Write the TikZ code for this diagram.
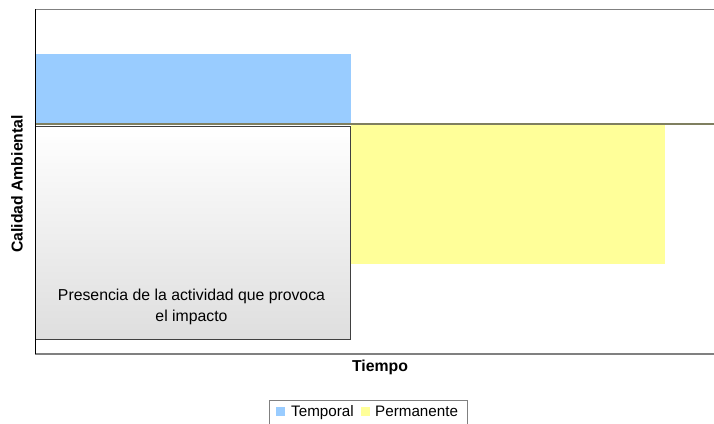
\documentclass[tikz,border=0pt]{standalone}
\usepackage{fontspec}
\setmainfont{Liberation Sans}
\definecolor{tempblue}{HTML}{99CCFF}
\definecolor{permyellow}{HTML}{FFFF99}
\definecolor{framegray}{HTML}{808080}
\definecolor{midline}{HTML}{7F7F60}
\definecolor{boxedge}{HTML}{404040}
\definecolor{boxbottom}{HTML}{DEDEDE}
\tikzset{
  lbl/.style={inner sep=0pt, font=\fontsize{15.8}{21.5}\selectfont},
  boldlbl/.style={inner sep=0pt, font=\fontsize{15.8}{21.5}\selectfont\bfseries},
  leglbl/.style={inner sep=0pt, font=\fontsize{15.2}{20}\selectfont},
  legsq/.style={minimum width=9pt, minimum height=9pt, inner sep=0pt},
}
\begin{document}
\begin{tikzpicture}[x=1pt,y=-1pt]
\clip (0,0) rectangle (714,423);
\fill[white] (0,0) rectangle (714,423);
% bars
\fill[tempblue] (35,54) rectangle (350.5,124);
\fill[permyellow] (350.5,124) rectangle (665,264);
% frame lines
\draw[framegray, line width=1.2pt] (35,9.5) -- (714,9.5);
\draw[framegray, line width=1.2pt] (35,354) -- (714,354);
\draw[midline, line width=1.6pt] (35,124) -- (714,124);
% activity box
\node[draw=boxedge, line width=1.3pt, top color=white, bottom color=boxbottom,
      minimum width=315pt, minimum height=213pt, anchor=north west, inner sep=0pt] (act) at (35,126) {};
\node[lbl, align=center] (acttext) at (191.5,307) {Presencia de la actividad que provoca\\el impacto};
\draw[black, line width=0.8pt] (35,9) -- (35,354);
% axis titles
\node[boldlbl, rotate=90] (ylab) at (17,184) {Calidad Ambiental};
\node[boldlbl] (xlab) at (380,367.5) {Tiempo};
% legend
\node[draw=framegray, line width=1pt, minimum width=198pt, minimum height=30pt, anchor=north west, inner sep=0pt] (legend) at (269,399.5) {};
\node[legsq, fill=tempblue] (sq1) at (280.5,411) {};
\node[leglbl, anchor=base west] (l1) at (291,416.5) {Temporal};
\node[legsq, fill=permyellow] (sq2) at (365.5,411) {};
\node[leglbl, anchor=base west] (l2) at (375,416.5) {Permanente};
\end{tikzpicture}
\end{document}
